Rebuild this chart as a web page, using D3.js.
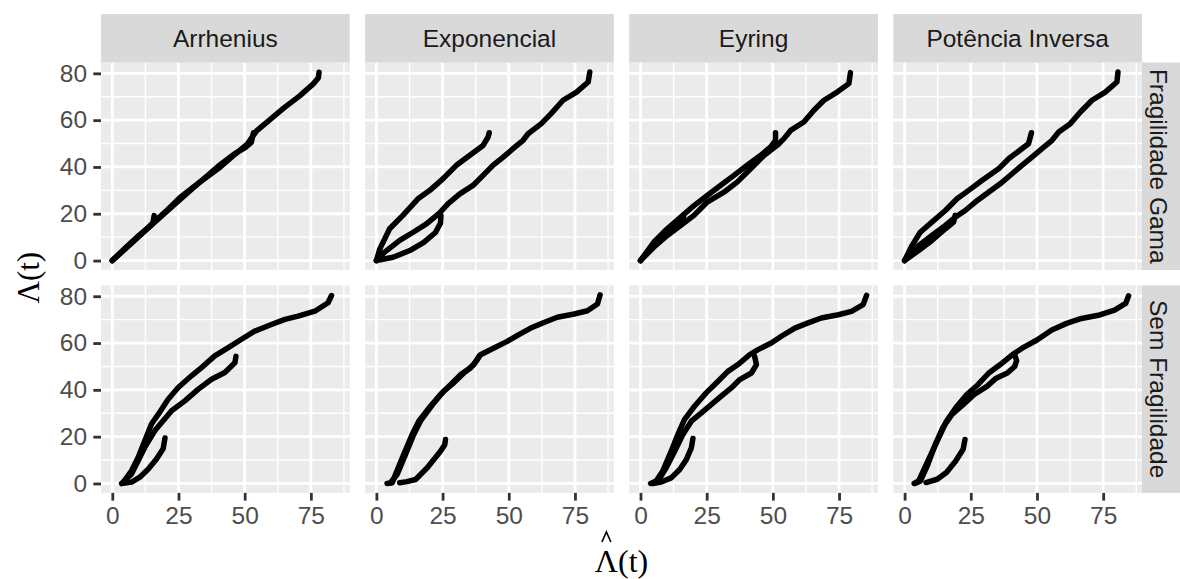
<!DOCTYPE html>
<html>
<head>
<meta charset="utf-8">
<script src="https://cdn.jsdelivr.net/npm/d3@7"></script>
<style>
body { margin: 0; background: #fff; }
svg { display: block; }
</style>
</head>
<body>
<svg id="chart" width="1180" height="579"></svg>
<script>
// facets
var models = ["Arrhenius", "Exponencial", "Eyring", "Potência Inversa"];
var frailty = ["Fragilidade Gama", "Sem Fragilidade"];

// axis breaks
var xTicks = [0, 25, 50, 75];
var yTicks = [0, 20, 40, 60, 80];
var xMinor = [12.5, 37.5, 62.5, 87.5];
var yMinor = [10, 30, 50, 70];

// [estimated Λ(t), Λ(t)] pairs, three curves per panel
var gamaArrhenius = [
  [[0,0],[5,5.2],[12.5,13],[20,20.8],[25.6,27],[33,33.5],[40.7,39.9],[45.7,44.8],[50.8,49.5],[54.5,55.4],[60.8,61.4],[64.6,65],[70.9,70.5],[75.9,75.5],[77.8,78],[78.1,80.5]],
  [[0,0],[10,10.3],[20,20.5],[30,30.5],[40,40.3],[46,45.5],[50.5,48.5],[52.5,50.5],[53.3,54.6]],
  [[0,0],[5,5.5],[10,10.7],[13.5,14],[15.3,15.8],[15.8,19.2]]
];
var gamaExponencial = [
  [[0,0],[3.1,3.6],[8.8,8.6],[13.9,12.1],[18.9,15.7],[23.9,20.4],[27.1,24.3],[31.5,28.5],[36.5,32.1],[40.3,36.4],[44,40.7],[47.9,44.2],[51.6,47.8],[55.4,51.4],[57.3,54.2],[62.3,58.5],[66,62.8],[70.5,68.5],[75.6,72],[80,76.3],[80.6,80.6]],
  [[0,0],[1.3,5],[5,13.6],[10,19.3],[15.7,26.4],[20.2,30],[25.2,35],[30.2,40.7],[35.3,45],[40.3,49.2],[42.2,52.8],[42.6,54.6]],
  [[0,0],[6.3,1.4],[12.6,4.3],[17.9,7.8],[22.3,12],[24.2,16],[24.4,19.3]]
];
var gamaEyring = [
  [[0,0],[5,5.7],[10.1,10.7],[15.1,15],[20.2,19.3],[25.2,25],[31.5,29.2],[36.5,33.5],[41.6,39.2],[46.6,44.9],[51.6,49.2],[54.2,52.1],[56.7,55.6],[61.7,59.2],[65.5,64.2],[69.3,68.5],[74.3,72],[78.7,75.6],[79.3,80.3]],
  [[0,0],[5,7.8],[10.1,13.6],[15.1,18.5],[20.2,23.5],[25.2,27.8],[30.2,32.1],[35.3,36.4],[40.3,40.7],[45.3,44.9],[49.1,48.5],[51,51.4],[51,54.6]],
  [[0,0],[2.5,3.6],[7.6,9.3],[12.6,14.3],[15.7,16.4],[16.4,19.5]]
];
var gamaPotencia = [
  [[0,0],[5.3,6.4],[10.3,10.7],[15.4,15],[19.1,18.5],[22.9,21.4],[26.7,25],[31.7,29.2],[36.1,32.8],[40.6,37.1],[44.3,40.7],[48.1,44.2],[51.9,47.8],[55.7,51.4],[58.2,54.9],[62.6,58.5],[66.4,63.5],[70.8,68.5],[75.8,72],[80.2,76.3],[80.6,80.6]],
  [[0,0],[2.8,6.4],[5.9,12.1],[10.3,16.4],[15.4,21.4],[19.8,26.4],[24.2,30],[29.2,34.2],[35.5,39.2],[39.3,43.5],[44.3,47.8],[46.8,49.9],[47.9,54.6]],
  [[0,0],[5.3,4.3],[10.3,8.6],[15.4,13.6],[18.5,16.4],[19.1,19.3]]
];
var semArrhenius = [
  [[3.5,0],[4.2,0.6],[7.3,5.5],[9.8,11.2],[12.3,18.3],[14.8,25.4],[17.4,29.6],[21.1,36],[24.9,41],[29.9,46],[33.7,49.5],[38.7,54.5],[43.8,58],[48.8,61.6],[53.8,65.1],[60.1,67.9],[65.2,70.1],[70.2,71.5],[76.5,73.6],[81.5,77.2],[82.8,80.3]],
  [[4.2,0.6],[7.3,4.1],[9.8,9.8],[12.3,15.5],[16.1,22.6],[19.2,26.8],[22.4,31.1],[27.4,35.3],[32.5,40.3],[37.5,44.5],[42.5,47.4],[46.3,51.6],[46.7,54.3]],
  [[4.2,0.1],[7.3,0.6],[10.4,2.7],[13.6,6.2],[16.7,10.5],[19.2,14.8],[19.9,19.4]]
];
var semExponencial = [
  [[4,0],[6,0.3],[7.2,3.8],[10.3,12.4],[13.5,20.9],[16,26.6],[20.4,33],[24.2,38],[28,42.2],[31.8,46.5],[35.6,49.4],[38.1,52.9],[39.3,55],[44.4,57.9],[49.4,60.7],[53.8,63.6],[58.3,66.4],[63.3,68.8],[68.3,71],[74.7,72.4],[79.7,73.8],[83.5,76.7],[84.5,80.6]],
  [[5.3,0.3],[7.8,3.8],[11,12.4],[14.1,20.9],[16.6,26.6],[21.7,34.4],[25.4,39.4],[29.2,43],[33,47.2],[36.8,50.8],[38.7,54.3]],
  [[8.8,0.3],[11.5,0.8],[14.8,1.7],[19.2,6.7],[24.2,13.8],[25.8,16.5],[26.1,18.8]]
];
var semEyring = [
  [[3.8,0],[5.9,1],[8.4,5.3],[11.6,13.8],[14.1,20.9],[16.6,27.3],[20.4,33],[24.8,38.7],[29.3,43.7],[33,47.9],[36.8,50.8],[41.2,55],[44.4,57.2],[49.4,60],[53.2,62.9],[58.3,66.4],[63.3,68.6],[68.3,70.7],[74.7,72.1],[79.7,73.5],[84.1,76.4],[85.4,80.4]],
  [[4.5,0],[6.6,1],[9.7,6.7],[12.9,13.8],[16,20.9],[19.2,26.6],[23,30.2],[26.7,33.7],[30.5,37.3],[34.3,40.8],[37.5,44.4],[41.9,47.2],[43.8,50.8],[43.1,54.3]],
  [[4.7,0],[7.8,0.6],[11.6,2.4],[14.8,6],[17.3,10.2],[19.2,15.2],[19.8,19.2]]
];
var semPotencia = [
  [[3.6,0],[5.3,1.1],[8.8,9.6],[12.3,18.1],[15.8,26.6],[19.3,32.3],[23.5,38],[27.7,42.2],[31.8,47.2],[36,50.7],[40.9,55.2],[44.4,57.8],[50,61.3],[55.6,65.6],[61.2,68.4],[66.8,70.5],[73.7,72],[79.3,74.1],[83.5,76.9],[84.6,80.2]],
  [[3.9,0],[6,1.1],[8.8,8.2],[11.6,16.7],[14.4,23.8],[17.9,29.5],[22.1,33.7],[26.3,38],[31.1,41.5],[34.6,45],[38.8,47.2],[41.6,50],[42.3,52.5],[41.6,55]],
  [[8.1,0.4],[12.3,1.8],[15.8,4.7],[19.3,9.6],[22.1,14.6],[22.8,18.8]]
];

var panelData = [
  [gamaArrhenius, gamaExponencial, gamaEyring, gamaPotencia],
  [semArrhenius, semExponencial, semEyring, semPotencia]
];

// layout
var panelLeft = 101, panelTop = 62.5, panelW = 248.7, panelH = 207.5, gap = 15.4;
var stripH = 48.5;
var sans = "'Liberation Sans', Arial, sans-serif";
var serif = "'Liberation Serif', 'Times New Roman', serif";

var svg = d3.select("#chart");

// shared scales, expanded 5% like ggplot
var allPts = d3.merge(d3.merge(d3.merge(panelData)));
function expand(ext) {
  var p = (ext[1] - ext[0]) * 0.05;
  return [ext[0] - p, ext[1] + p];
}
var x = d3.scaleLinear().domain(expand(d3.extent(allPts, d => d[0]))).range([0, panelW]);
var y = d3.scaleLinear().domain(expand(d3.extent(allPts, d => d[1]))).range([panelH, 0]);

var line = d3.line().x(d => x(d[0])).y(d => y(d[1]));

svg.append("clipPath").attr("id", "panel-clip")
  .append("rect").attr("width", panelW).attr("height", panelH);

function styleAxis(a) {
  a.select(".domain").remove();
  a.selectAll(".tick line").attr("stroke", "#333333").attr("stroke-width", 2.8);
  a.selectAll(".tick text").attr("fill", "#4D4D4D")
    .attr("font-family", sans).attr("font-size", 24.5);
}

panelData.forEach(function(row, r) {
  row.forEach(function(curves, c) {
    var px = panelLeft + c * (panelW + gap);
    var py = panelTop + r * (panelH + gap);
    var g = svg.append("g").attr("transform", "translate(" + px + "," + py + ")");

    g.append("rect").attr("width", panelW).attr("height", panelH).attr("fill", "#EBEBEB");

    // grid
    g.selectAll(".xminor").data(xMinor).enter().append("line")
      .attr("x1", d => x(d)).attr("x2", d => x(d)).attr("y1", 0).attr("y2", panelH)
      .attr("stroke", "#fff").attr("stroke-width", 1.4);
    g.selectAll(".yminor").data(yMinor).enter().append("line")
      .attr("y1", d => y(d)).attr("y2", d => y(d)).attr("x1", 0).attr("x2", panelW)
      .attr("stroke", "#fff").attr("stroke-width", 1.4);
    g.selectAll(".xmajor").data(xTicks).enter().append("line")
      .attr("x1", d => x(d)).attr("x2", d => x(d)).attr("y1", 0).attr("y2", panelH)
      .attr("stroke", "#fff").attr("stroke-width", 2.8);
    g.selectAll(".ymajor").data(yTicks).enter().append("line")
      .attr("y1", d => y(d)).attr("y2", d => y(d)).attr("x1", 0).attr("x2", panelW)
      .attr("stroke", "#fff").attr("stroke-width", 2.8);

    // curves
    g.append("g").attr("clip-path", "url(#panel-clip)")
      .selectAll("path").data(curves).enter().append("path")
      .attr("d", line)
      .attr("fill", "none").attr("stroke", "#000").attr("stroke-width", 5.5)
      .attr("stroke-linecap", "round").attr("stroke-linejoin", "round");

    // y axis on first column
    if (c === 0) {
      var ya = g.append("g").call(d3.axisLeft(y).tickValues(yTicks).tickSize(7.7).tickPadding(6.2));
      styleAxis(ya);
    }
    // x axis on bottom row
    if (r === panelData.length - 1) {
      var xa = g.append("g").attr("transform", "translate(0," + panelH + ")")
        .call(d3.axisBottom(x).tickValues(xTicks).tickSize(7.7).tickPadding(6.2));
      styleAxis(xa);
    }

    // top strips
    if (r === 0) {
      svg.append("rect").attr("x", px).attr("y", panelTop - stripH)
        .attr("width", panelW).attr("height", stripH).attr("fill", "#D9D9D9");
      svg.append("text").attr("x", px + panelW / 2).attr("y", panelTop - stripH / 2)
        .attr("dy", "0.35em").attr("text-anchor", "middle")
        .attr("font-family", sans).attr("font-size", 24.5).attr("fill", "#1A1A1A")
        .text(models[c]);
    }
  });

  // right strips
  var sx = panelLeft + 4 * panelW + 3 * gap;
  var sy = panelTop + r * (panelH + gap);
  svg.append("rect").attr("x", sx).attr("y", sy)
    .attr("width", 1180 - sx).attr("height", panelH).attr("fill", "#D9D9D9");
  svg.append("text")
    .attr("transform", "translate(" + (sx + 16.5) + "," + (sy + panelH / 2) + ") rotate(90)")
    .attr("dy", "0.35em").attr("text-anchor", "middle")
    .attr("font-family", sans).attr("font-size", 24.5).attr("fill", "#1A1A1A")
    .text(frailty[r]);
});

// axis titles
var midY = panelTop + panelH + gap / 2;
svg.append("text")
  .attr("transform", "translate(28," + midY + ") rotate(-90)")
  .attr("dy", "0.35em").attr("text-anchor", "middle")
  .attr("font-family", serif).attr("font-size", 31).attr("fill", "#000")
  .text("Λ(t)");

var midX = panelLeft + (4 * panelW + 3 * gap) / 2;
var xt = svg.append("text")
  .attr("x", midX).attr("y", 572).attr("text-anchor", "middle")
  .attr("font-family", serif).attr("font-size", 32).attr("fill", "#000")
  .text("Λ(t)");

// hat over the Λ of the x title
var lam = xt.node().getExtentOfChar(0);
var hx = lam.x + lam.width / 2;
svg.append("path")
  .attr("d", d3.line()([[hx - 4.5, 542], [hx, 532], [hx + 4.5, 542]]))
  .attr("fill", "none").attr("stroke", "#000").attr("stroke-width", 1.6);
</script>
</body>
</html>
